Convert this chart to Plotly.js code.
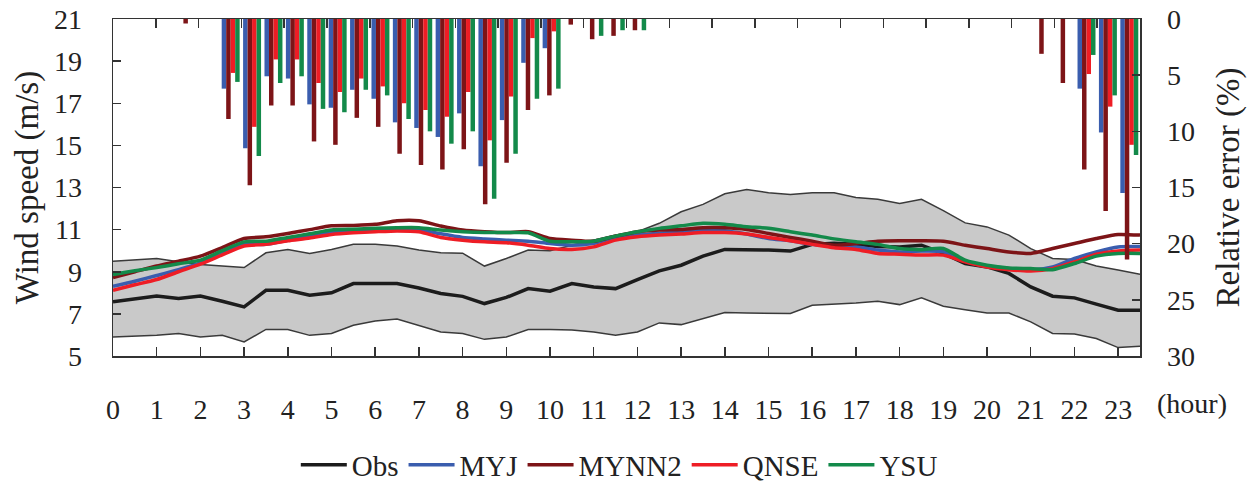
<!DOCTYPE html>
<html>
<head>
<meta charset="utf-8">
<script src="https://cdn.plot.ly/plotly-3.0.1.min.js"></script>
<style>html,body{margin:0;padding:0;background:#fff;}#chart{width:1248px;height:483px;}</style>
</head>
<body>
<div id="chart"></div>
<script>
const hours = [0,0.5,1,1.5,2,2.5,3,3.5,4,4.5,5,5.5,6,6.5,7,7.5,8,8.5,9,9.5,10,10.5,11,11.5,12,12.5,13,13.5,14,14.5,15,15.5,16,16.5,17,17.5,18,18.5,19,19.5,20,20.5,21,21.5,22,22.5,23,23.5];
const hourTicks = [0,1,2,3,4,5,6,7,8,9,10,11,12,13,14,15,16,17,18,19,20,21,22,23];
const hourTickLabels = ["0","1","2","3","4","5","6","7","8","9","10","11","12","13","14","15","16","17","18","19","20","21","22","23"];

const obs = [7.57,7.70,7.85,7.73,7.85,7.60,7.33,8.12,8.12,7.89, 8.00,8.44,8.44,8.44,8.23,7.97,7.83,7.49,7.78,8.20, 8.08,8.44,8.28,8.20,8.63,9.04,9.31,9.74,10.06,10.06, 10.03,9.98,10.30,10.35,10.30,10.20,10.18,10.26,9.87,9.39, 9.23,8.92,8.28,7.84,7.76,7.46,7.17,7.17];
const obsUpper = [9.50,9.56,9.63,9.47,9.35,9.27,9.20,9.90,10.06,9.87, 10.06,10.31,10.31,10.22,10.03,9.90,9.88,9.27,9.63,10.03, 10.00,10.26,10.50,10.74,10.90,11.30,11.85,12.20,12.70,12.90, 12.75,12.67,12.75,12.75,12.53,12.44,12.24,12.44,11.90,11.32, 11.13,10.74,10.10,9.63,9.58,9.27,9.08,8.88];
const obsLower = [5.90,5.94,5.98,6.07,5.90,5.98,5.67,6.26,6.26,5.98, 6.07,6.46,6.66,6.76,6.46,6.14,6.07,5.79,5.90,6.26, 6.26,6.23,6.14,5.98,6.14,6.57,6.49,6.78,7.06,7.04, 7.02,7.02,7.41,7.46,7.52,7.60,7.44,7.76,7.36,7.20, 7.04,7.04,6.62,6.07,6.04,5.83,5.40,5.46];
const myj = [8.31,8.55,8.82,9.10,9.42,9.85,10.30,10.30,10.50,10.70, 10.90,10.95,10.99,11.02,11.00,10.80,10.63,10.56,10.50,10.45, 10.34,10.26,10.35,10.62,10.74,10.82,10.90,10.98,10.95,10.79, 10.58,10.47,10.30,10.22,10.18,10.03,9.94,9.98,9.95,9.50, 9.27,9.15,9.08,9.23,9.63,9.94,10.18,10.20];
const mynn2 = [8.73,9.00,9.27,9.50,9.74,10.15,10.58,10.66,10.82,11.00, 11.18,11.20,11.25,11.42,11.42,11.17,10.98,10.90,10.86,10.90, 10.58,10.50,10.45,10.69,10.90,10.98,11.01,11.09,11.09,11.01, 10.82,10.63,10.45,10.26,10.34,10.45,10.47,10.47,10.45,10.26, 10.10,9.94,9.87,10.10,10.34,10.58,10.77,10.74];
const qnse = [8.12,8.38,8.63,9.00,9.36,9.80,10.22,10.30,10.47,10.60, 10.77,10.85,10.90,10.94,10.90,10.63,10.50,10.42,10.38,10.26, 10.10,10.06,10.18,10.50,10.66,10.74,10.79,10.86,10.86,10.79, 10.63,10.47,10.30,10.14,10.06,9.87,9.83,9.79,9.79,9.47, 9.23,9.10,9.04,9.15,9.47,9.83,9.99,10.03];
const ysu = [8.87,9.05,9.20,9.38,9.55,10.00,10.42,10.45,10.63,10.80, 10.98,11.02,11.06,11.09,11.09,10.98,10.90,10.86,10.86,10.85, 10.45,10.42,10.45,10.69,10.90,11.06,11.18,11.30,11.25,11.14, 11.06,10.90,10.74,10.56,10.42,10.30,10.10,10.05,10.10,9.55, 9.31,9.18,9.15,9.10,9.39,9.74,9.87,9.87];

const errMYJ = [0,0,0,0,0,6.2,11.5,5.1,5.3,7.6, 7.9,6.3,7.1,9.2,9.7,10.5,8.4,13.1,9.0,3.9, 2.6,0,0,0,0,0,0,0,0,0, 0,0,0,0,0,0,0,0,0,0, 0,0,0,0,0,6.2,10.1,15.5];
const errMYNN2 = [0,0,0,0.4,0,8.9,14.8,7.7,7.7,10.9, 11.2,8.8,9.6,12.0,13.0,13.4,11.6,16.5,12.8,8.1, 6.8,0.5,1.8,1.5,1.0,0,0,0,0,0, 0,0,0,0,0,0,0,0,0,0, 0,0,0,3.1,5.7,13.4,17.1,21.4];
const errQNSE = [0,0,0,0,0,4.8,9.6,3.6,3.6,5.7, 6.5,5.3,6.0,7.5,8.1,8.7,6.5,10.8,6.9,1.7, 1.1,0,0,0,0,0,0,0,0,0, 0,0,0,0,0,0,0,0,0,0, 0,0,0,0,0,4.9,7.8,11.2];
const errYSU = [0,0,0,0,0,5.6,12.2,5.7,5.1,8.0, 8.3,6.3,6.8,8.9,10.0,11.1,10.0,16.0,12.0,7.1, 6.2,0,1.5,1.0,1.0,0,0,0,0,0, 0,0,0,0,0,0,0,0,0,0, 0,0,0,0,0,3.2,6.8,12.1];

const C = {obs:'#1c1c1c', myj:'#3a5dae', mynn2:'#7d1417', qnse:'#ee1d25', ysu:'#138a4a'};
const FONT = 'Liberation Serif';

const traces = [];
function bar(name, vals, color){
  return {type:'bar', x:hours, y:vals, xaxis:'x2', yaxis:'y2', name:name, showlegend:false,
          marker:{color:color, line:{width:0}}, hoverinfo:'skip'};
}
traces.push({type:'scatter', mode:'lines', x:hours, y:obsLower, line:{color:'#3a3a3a', width:1.5}, showlegend:false, hoverinfo:'skip'});
traces.push({type:'scatter', mode:'lines', x:hours, y:obsUpper, fill:'tonexty', fillcolor:'#c9c9c9', line:{color:'#3a3a3a', width:1.5}, showlegend:false, hoverinfo:'skip'});
traces.push({type:'scatter', mode:'lines', x:hours, y:obs, name:'Obs', line:{color:C.obs, width:3.5}});
traces.push({type:'scatter', mode:'lines', x:hours, y:myj, name:'MYJ', line:{color:C.myj, width:3.5, shape:'spline', smoothing:0.6}});
traces.push({type:'scatter', mode:'lines', x:hours, y:mynn2, name:'MYNN2', line:{color:C.mynn2, width:3.5, shape:'spline', smoothing:0.6}});
traces.push({type:'scatter', mode:'lines', x:hours, y:qnse, name:'QNSE', line:{color:C.qnse, width:3.5, shape:'spline', smoothing:0.6}});
traces.push({type:'scatter', mode:'lines', x:hours, y:ysu, name:'YSU', line:{color:C.ysu, width:3.5, shape:'spline', smoothing:0.6}});
traces.push(bar('MYJ err', errMYJ, C.myj));
traces.push(bar('MYNN2 err', errMYNN2, C.mynn2));
traces.push(bar('QNSE err', errQNSE, C.qnse));
traces.push(bar('YSU err', errYSU, C.ysu));

const axisCommon = {showgrid:false, zeroline:false, showline:true, linecolor:'#333', linewidth:1.5,
                    ticks:'inside', tickcolor:'#333', tickwidth:1.5,
                    tickfont:{family:FONT, size:28, color:'#222'}};

const layout = {
  width:1248, height:483,
  margin:{l:113, r:108, t:19, b:127, pad:0, autoexpand:false},
  paper_bgcolor:'#fff', plot_bgcolor:'#fff',
  barmode:'group', bargap:0.16, bargroupgap:0,
  font:{family:FONT, color:'#222'},
  xaxis: Object.assign({}, axisCommon, {range:[0,23.5], tickvals:hourTicks, ticktext:hourTickLabels, ticklen:9, ticklabelstandoff:28}),
  xaxis2: Object.assign({}, axisCommon, {overlaying:'x', side:'top', anchor:'y2', range:[-0.25,23.75], tick0:-0.25, dtick:1, ticklen:9, showticklabels:false}),
  yaxis: Object.assign({}, axisCommon, {range:[5,21], tick0:5, dtick:2, ticklen:8, ticklabelstandoff:24,
          title:{text:'Wind speed (m/s)', font:{family:FONT, size:33, color:'#222'}, standoff:5}}),
  yaxis2: Object.assign({}, axisCommon, {overlaying:'y', side:'right', anchor:'x2', range:[30,0], tick0:0, dtick:5, ticklen:8, ticklabelstandoff:20,
          title:{text:'Relative error (%)', font:{family:FONT, size:33, color:'#222'}, standoff:22}}),
  legend:{orientation:'h', traceorder:'normal', x:0.493, xanchor:'center', y:-0.323, yanchor:'middle',
          font:{family:FONT, size:29, color:'#222'}, bgcolor:'rgba(0,0,0,0)', itemwidth:46},
  annotations:[{text:'(hour)', xref:'paper', yref:'paper', x:1.0506, y:-0.142, xanchor:'center', yanchor:'middle',
                showarrow:false, font:{family:FONT, size:28, color:'#222'}}]
};

Plotly.newPlot('chart', traces, layout, {displayModeBar:false, staticPlot:true});
</script>
</body>
</html>
